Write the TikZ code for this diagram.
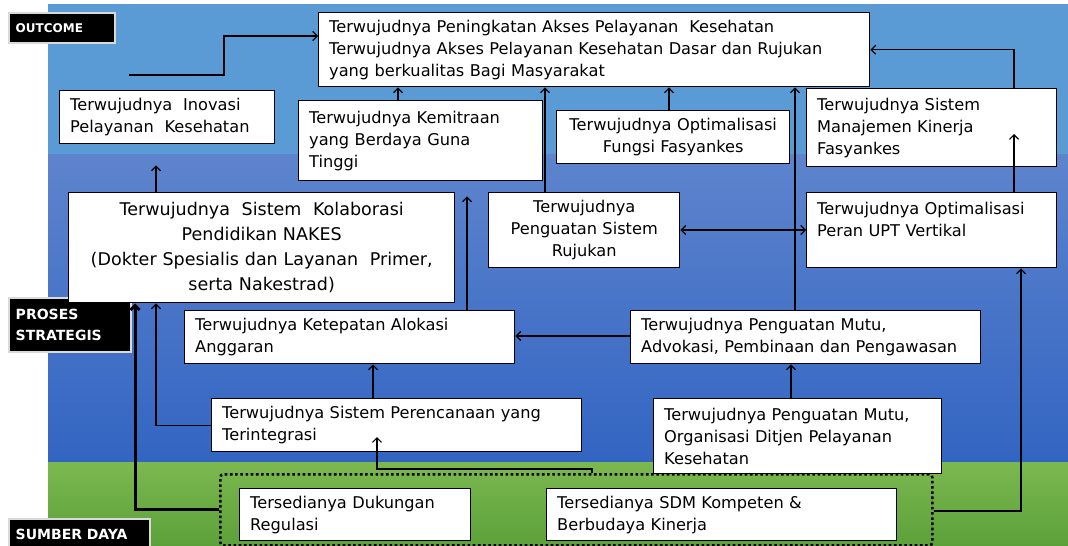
\documentclass[tikz,border=0pt]{standalone}
\usepackage{fontspec}
\setmainfont{DejaVu Sans}
\usetikzlibrary{arrows, arrows.meta, positioning}

\definecolor{bandtop}{RGB}{91,155,213}
\definecolor{bandmidhi}{RGB}{94,132,205}
\definecolor{bandmidlo}{RGB}{50,101,194}
\definecolor{bandlowhi}{RGB}{124,184,80}
\definecolor{bandlowlo}{RGB}{92,160,58}

\begin{document}
\begin{tikzpicture}[x=1pt, y=-1pt,
    >={Straight Barb[length=4.5pt, width=9pt]},
    goal/.style={rectangle, draw, fill=white, line width=1.4pt, anchor=north west,
                 inner xsep=10pt, inner ysep=0pt, align=left,
                 font=\fontsize{16.2}{22}\selectfont},
    tag/.style={rectangle, draw=black!15, fill=black, line width=1.5pt, anchor=north west,
                inner xsep=6pt, inner ysep=0pt, align=left, text=white,
                font=\bfseries\fontsize{14}{21}\selectfont},
    frame/.style={rectangle, draw, line width=2.6pt, dash pattern=on 2.6pt off 2.6pt,
                  rounded corners=3pt, anchor=north west},
    link/.style={->, line width=1.2pt}]

        \useasboundingbox (0,0) rectangle (1068,546);

        \fill[bandtop] (48,4) rectangle (1068,154);
        \shade[top color=bandmidhi, bottom color=bandmidlo] (48,154) rectangle (1068,462);
        \shade[top color=bandlowhi, bottom color=bandlowlo] (48,462) rectangle (1068,546);

        \node[tag, minimum width=106pt, minimum height=30pt, text width=92pt,
              font=\bfseries\fontsize{12}{20}\selectfont]
            (l_1) at (8,12) {OUTCOME};
        \node[tag, minimum width=122pt, minimum height=54pt, text width=108pt]
            (l_2) at (8,297) {PROSES\\STRATEGIS};
        \node[tag, minimum width=141pt, minimum height=32pt, text width=127pt]
            (l_3) at (8,518) {SUMBER DAYA};

        \node[goal, minimum width=551pt, minimum height=74pt, text width=530pt] (o_1) at (318,12)
            {Terwujudnya Peningkatan Akses Pelayanan~ Kesehatan\\
             Terwujudnya Akses Pelayanan Kesehatan Dasar dan Rujukan\\
             yang berkualitas Bagi Masyarakat};

        \node[goal, minimum width=215pt, minimum height=53pt, text width=194pt] (o_2) at (59,90)
            {Terwujudnya~ Inovasi\\Pelayanan~ Kesehatan};

        \node[goal, minimum width=244pt, minimum height=80pt, text width=223pt] (o_3) at (298,100)
            {Terwujudnya Kemitraan\\yang Berdaya Guna\\Tinggi};

        \node[goal, minimum width=233pt, minimum height=53pt, text width=212pt, align=center] (o_4) at (556,110)
            {Terwujudnya Optimalisasi\\Fungsi Fasyankes};

        \node[goal, minimum width=250pt, minimum height=78pt, text width=229pt] (o_5) at (806,88)
            {Terwujudnya Sistem\\Manajemen Kinerja\\Fasyankes};

        \node[goal, minimum width=386pt, minimum height=110pt, text width=365pt, align=center,
              font=\fontsize{17.5}{25}\selectfont] (p_1) at (68,192)
            {Terwujudnya~ Sistem~ Kolaborasi\\Pendidikan NAKES\\
             (Dokter Spesialis dan Layanan~ Primer,\\serta Nakestrad)};

        \node[goal, minimum width=191pt, minimum height=75pt, text width=170pt, align=center] (p_2) at (488,192)
            {Terwujudnya\\Penguatan Sistem\\Rujukan};

        \node[goal, minimum width=250pt, minimum height=75pt, text width=229pt] (p_3) at (806,192)
            {Terwujudnya Optimalisasi\\Peran UPT Vertikal\\~};

        \node[goal, minimum width=330pt, minimum height=53pt, text width=309pt] (p_4) at (184,310)
            {Terwujudnya Ketepatan Alokasi\\Anggaran};

        \node[goal, minimum width=350pt, minimum height=53pt, text width=329pt] (p_5) at (630,310)
            {Terwujudnya Penguatan Mutu,\\Advokasi, Pembinaan dan Pengawasan};

        \node[goal, minimum width=370pt, minimum height=53pt, text width=349pt] (p_6) at (211,398)
            {Terwujudnya Sistem Perencanaan yang\\Terintegrasi};

        \node[goal, minimum width=288pt, minimum height=75pt, text width=267pt] (p_7) at (653,398)
            {Terwujudnya Penguatan Mutu,\\Organisasi Ditjen Pelayanan\\Kesehatan};

        \node[frame, minimum width=712pt, minimum height=71pt] (s_0) at (219,473) {};

        \node[goal, minimum width=231pt, minimum height=52pt, text width=210pt] (s_1) at (239,488)
            {Tersedianya Dukungan\\Regulasi};

        \node[goal, minimum width=350pt, minimum height=52pt, text width=329pt] (s_2) at (546,488)
            {Tersedianya SDM Kompeten \&\\Berbudaya Kinerja};

        \coordinate (o_2_out) at (129,75);
        \coordinate (o_5_in) at (1014,134);
        \coordinate (p_6_in) at (377,437);

        \draw[link] (o_2_out) -- ++(95,0) |- ([yshift=-24pt]o_1.north west);
        \draw[link, shorten >=21pt] (p_1.north -| 156,0) -- (o_2.south -| 156,0);
        \draw[link] (o_3.north -| 398,0) -- (o_1.south -| 398,0);
        \draw[link] (o_4.north -| 669,0) -- (o_1.south -| 669,0);
        \draw[link] (p_2.north -| 545,0) -- (o_1.south -| 545,0);
        \draw[link] (p_5.north -| 795,0) -- (o_1.south -| 795,0);
        \draw[link] (o_5.north -| 1014,0) |- (o_1.east);
        \draw[link] (p_3.north -| 1014,0) -- (o_5_in);
        \draw[link, <->] (p_2.east |- 0,230) -- (p_3.west |- 0,230);
        \draw[link] (s_0.east |- 0,511) -| (p_3.south -| 1021,0);

        \draw[link] (p_7.north -| 791,0) -- (p_5.south -| 791,0);
        \draw[link] (p_5.west |- 0,336) -- (p_4.east |- 0,336);
        \draw[link, shorten >=15pt] (p_4.north -| 467,0) -- (o_3.south -| 467,0);
        \draw[link] (p_6.north -| 373,0) -- (p_4.south -| 373,0);
        \draw[link] (p_6.west) -| (p_1.south -| 156,0);
        \draw[link, line width=3pt] (s_0.west |- 0,509) -| (p_1.south -| 135,0);
        \draw[link] (s_0.north -| 592,0) -- ++(0,-4) -| (p_6_in);

    \end{tikzpicture}
\end{document}
